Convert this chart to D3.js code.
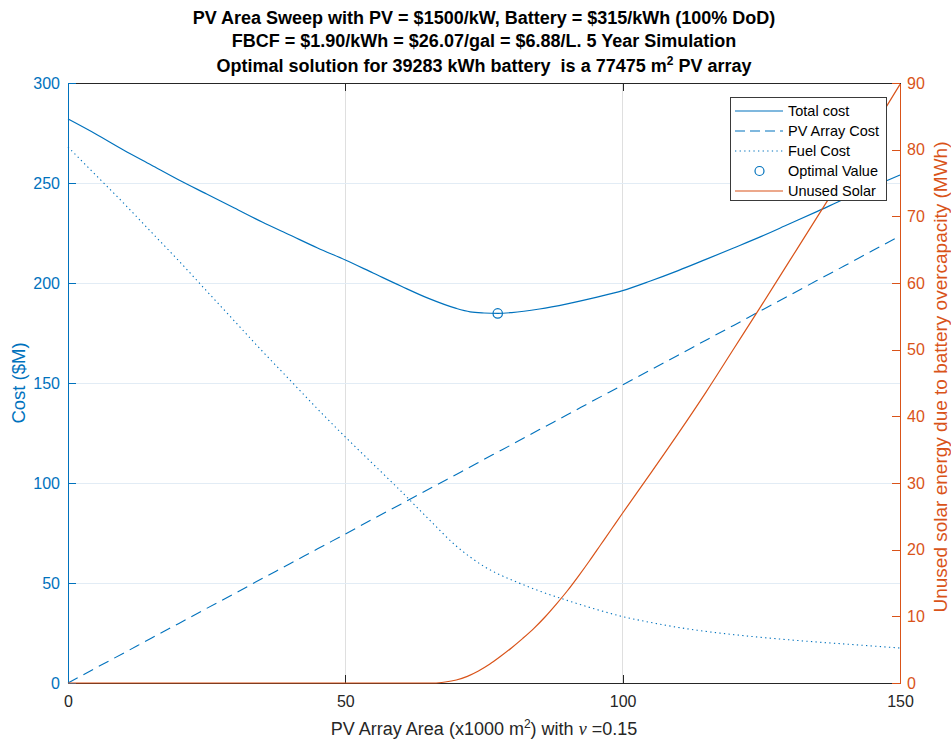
<!DOCTYPE html>
<html><head><meta charset="utf-8">
<script src="https://cdn.jsdelivr.net/npm/d3@7"></script>
<style>
body{margin:0;background:#fff}
svg{display:block;font-family:"Liberation Sans",Arial,Helvetica,sans-serif}
text{white-space:pre}
</style>
</head><body>
<svg id="chart" width="951" height="740"></svg>
<script>
// ---- data ----
const areaX = [0,5,10,15,20,25,30,35,40,45,50,55,60,65,70,72.5,75,77.5,80,85,90,95,100,105,110,115,120,125,130,135,140,145,150];
const totalCost = [282,274.5,266.5,259,251.5,244.5,237.5,230.5,224,217.5,211.5,205,198.5,192.3,187.3,185.6,185,184.8,185.2,187,189.6,192.7,196.2,201,206.2,211.8,217.5,223.3,229.5,235.7,242,248,254];
const pvCost = [0,7.5,14.9,22.4,29.8,37.3,44.7,52.2,59.6,67.1,74.5,82,89.4,96.9,104.3,108,111.8,115.5,119.2,126.7,134.1,141.6,149,156.5,163.9,171.4,178.8,186.3,193.7,201.2,208.6,216.1,223.5];
const fuelCost = [268,254,240,225.5,211,196,181,166,151.5,137,123,109.5,96,82,68.5,63,58.3,54.6,51.5,46,41.3,37,33.2,30.3,27.8,25.8,24.2,22.8,21.6,20.5,19.5,18.5,17.5];
const solarX = [0,10,20,30,40,50,60,66,68,70,72,74,76,78,80,82,84,86,88,90,92,94,96,98,100,105,110,115,120,125,130,135,140,145,150];
const unusedSolar = [0,0,0,0,0,0,0,0,0.15,0.45,1.0,1.8,2.8,4.0,5.3,6.7,8.2,9.9,11.8,13.8,16.0,18.3,20.7,23.1,25.5,31.4,37.4,43.6,50.1,56.6,63.2,69.8,76.4,83.0,89.8];
const optimal = [77.475, 184.8];
const xTicks = [0,50,100,150];
const yLeftTicks = [0,50,100,150,200,250,300];
const yRightTicks = [0,10,20,30,40,50,60,70,80,90];
const legendLabels = ["Total cost","PV Array Cost","Fuel Cost","Optimal Value","Unused Solar"];

// ---- layout ----
const BLUE = "#0072BD", ORANGE = "#D95319", DARK = "#262626";
const L = 68, R = 900, T = 83, B = 683;
const svg = d3.select("#chart");
svg.append("rect").attr("width",951).attr("height",740).attr("fill","#fff");

const x = d3.scaleLinear().domain([0,150]).range([L,R]);
const yL = d3.scaleLinear().domain([0,300]).range([B,T]);
const yR = d3.scaleLinear().domain([0,90]).range([B,T]);

// grid
const g = svg.append("g").attr("shape-rendering","crispEdges");
g.selectAll(".vg").data(xTicks.filter(d=>d>0&&d<150)).join("line")
  .attr("x1",d=>x(d)).attr("x2",d=>x(d)).attr("y1",T).attr("y2",B)
  .attr("stroke","#dfdfdf").attr("stroke-width",1);
g.selectAll(".hg").data(yLeftTicks.filter(d=>d>0&&d<300)).join("line")
  .attr("x1",L).attr("x2",R).attr("y1",d=>yL(d)).attr("y2",d=>yL(d))
  .attr("stroke","#e2ecf5").attr("stroke-width",1);

// axes
function styleAxis(sel,color,labelColor){
  sel.attr("shape-rendering","crispEdges");
  sel.select(".domain").attr("stroke",color).attr("stroke-width",1);
  sel.selectAll(".tick line").attr("stroke",color).attr("stroke-width",1);
  sel.selectAll(".tick text").attr("fill",labelColor).style("font-size","16px")
     .style("font-family",'"Liberation Sans",Arial,sans-serif');
}
const axB = svg.append("g").attr("transform",`translate(0,${B})`)
  .call(d3.axisBottom(x).tickValues(xTicks).tickSize(-8).tickSizeOuter(0).tickPadding(13).tickFormat(d3.format("d")));
styleAxis(axB,DARK,DARK);
const axT = svg.append("g").attr("transform",`translate(0,${T})`)
  .call(d3.axisTop(x).tickValues(xTicks).tickSize(-8).tickSizeOuter(0).tickFormat(""));
styleAxis(axT,DARK,DARK);
const axL = svg.append("g").attr("transform",`translate(${L},0)`)
  .call(d3.axisLeft(yL).tickValues(yLeftTicks).tickSize(-8).tickSizeOuter(0).tickPadding(8).tickFormat(d3.format("d")));
styleAxis(axL,BLUE,BLUE);
const axR = svg.append("g").attr("transform",`translate(${R},0)`)
  .call(d3.axisRight(yR).tickValues(yRightTicks).tickSize(-8).tickSizeOuter(0).tickPadding(7).tickFormat(d3.format("d")));
styleAxis(axR,ORANGE,ORANGE);

// lines
const lineL = d3.line().x((d,i)=>x(areaX[i])).y(d=>yL(d)).curve(d3.curveMonotoneX);
svg.append("path").datum(pvCost).attr("d",lineL).attr("fill","none")
  .attr("stroke",BLUE).attr("stroke-width",1.1).attr("stroke-dasharray","11,6.5");
svg.append("path").datum(fuelCost).attr("d",lineL).attr("fill","none")
  .attr("stroke",BLUE).attr("stroke-width",1.1).attr("stroke-dasharray","1.3,3.3");
svg.append("path").datum(totalCost).attr("d",lineL).attr("fill","none")
  .attr("stroke",BLUE).attr("stroke-width",1.2);
svg.append("circle").attr("cx",x(optimal[0])).attr("cy",yL(optimal[1])).attr("r",4.7)
  .attr("fill","none").attr("stroke",BLUE).attr("stroke-width",1.2);
const lineR = d3.line().x((d,i)=>x(solarX[i])).y(d=>yR(d)).curve(d3.curveMonotoneX);
svg.append("path").datum(unusedSolar).attr("d",lineR).attr("fill","none")
  .attr("stroke",ORANGE).attr("stroke-width",1.2);

// titles
const title = svg.append("g").attr("text-anchor","middle").attr("font-weight","bold")
  .style("font-size","18px").attr("fill","#000");
const cx = (L+R)/2;
title.append("text").attr("x",cx).attr("y",24).text("PV Area Sweep with PV = $1500/kW, Battery = $315/kWh (100% DoD)");
title.append("text").attr("x",cx).attr("y",47).text("FBCF = $1.90/kWh = $26.07/gal = $6.88/L. 5 Year Simulation");
const t3 = title.append("text").attr("x",cx).attr("y",72).attr("xml:space","preserve");
t3.append("tspan").text("Optimal solution for 39283 kWh battery\u00a0 is a 77475 m");
t3.append("tspan").attr("dy",-7).style("font-size","12px").text("2");
t3.append("tspan").attr("dy",7).text(" PV array");

// axis labels
const xl = svg.append("text").attr("x",cx).attr("y",735).attr("text-anchor","middle")
  .style("font-size","18px").attr("fill",DARK);
xl.append("tspan").text("PV Array Area (x1000 m");
xl.append("tspan").attr("dy",-7).style("font-size","12px").text("2");
xl.append("tspan").attr("dy",7).text(") with ");
xl.append("tspan").style("font-family",'"Liberation Serif","DejaVu Serif",serif').style("font-style","italic").text("ν");
xl.append("tspan").text(" =0.15");

svg.append("text").attr("transform",`translate(24.5,${(T+B)/2}) rotate(-90)`).attr("text-anchor","middle")
  .style("font-size","18.5px").attr("fill",BLUE).text("Cost ($M)");
svg.append("text").attr("transform",`translate(947,${(T+B)/2 - 6}) rotate(-90)`).attr("text-anchor","middle")
  .style("font-size","19px").attr("fill",ORANGE).text("Unused solar energy due to battery overcapacity (MWh)");

// legend
const lg = svg.append("g");
lg.append("rect").attr("x",730.5).attr("y",97.5).attr("width",156).attr("height",103)
  .attr("fill","#fff").attr("stroke","#3a3a3a").attr("stroke-width",1).attr("shape-rendering","crispEdges");
const rowY = i => 111 + i*20;
const styles = [
  {stroke:BLUE,dash:null},
  {stroke:BLUE,dash:"10,5"},
  {stroke:BLUE,dash:"1.3,3.3"},
  null,
  {stroke:ORANGE,dash:null}
];
legendLabels.forEach((lab,i)=>{
  const s = styles[i];
  if(s){
    lg.append("line").attr("x1",735).attr("x2",783).attr("y1",rowY(i)).attr("y2",rowY(i))
      .attr("stroke",s.stroke).attr("stroke-width",1.2).attr("stroke-dasharray",s.dash);
  } else {
    lg.append("circle").attr("cx",759.5).attr("cy",rowY(i)).attr("r",4.5)
      .attr("fill","none").attr("stroke",BLUE).attr("stroke-width",1.2);
  }
  lg.append("text").attr("x",788).attr("y",rowY(i)+5).style("font-size","14.5px").attr("fill","#000").text(lab);
});
</script>
</body></html>
